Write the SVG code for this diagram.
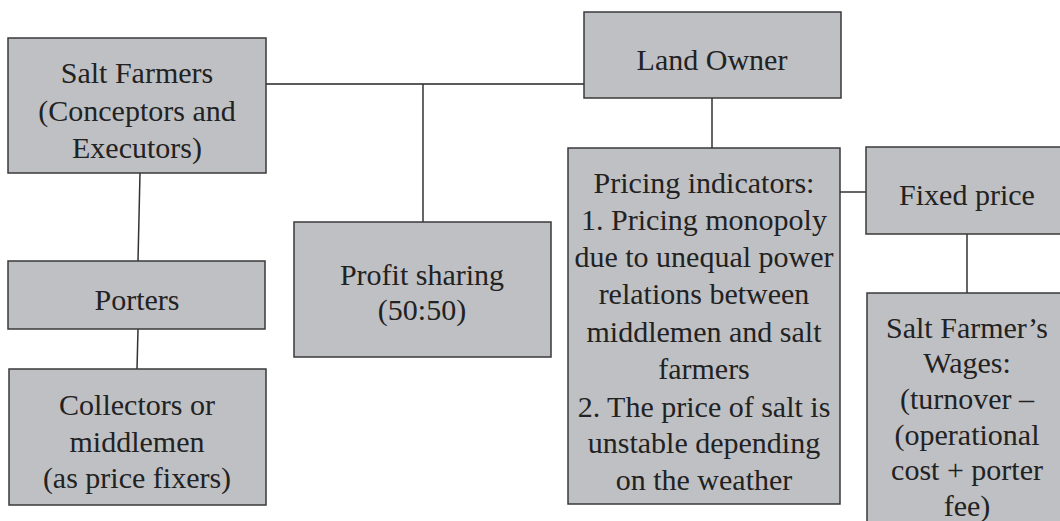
<svg xmlns="http://www.w3.org/2000/svg" width="1060" height="521" viewBox="0 0 1060 521">
<style>
.box{fill:#bfc0c4;stroke:#3a3a3a;stroke-width:1.5}
.t{font-family:"Liberation Serif","DejaVu Serif",serif;font-size:30px;fill:#222;text-anchor:middle}
.c{stroke:#333;stroke-width:1.5;fill:none}
.h{stroke:#5a5a5a;stroke-width:2;fill:none}
</style>
<rect width="1060" height="521" fill="#fff"/>
<g id="connectors">
<line class="h" x1="266" y1="84" x2="584" y2="84"/>
<line class="c" x1="423" y1="84" x2="423" y2="222"/>
<line class="c" x1="140" y1="173" x2="138" y2="261"/>
<line class="c" x1="138" y1="329" x2="137" y2="369"/>
<line class="c" x1="712" y1="98" x2="712" y2="148"/>
<line class="c" x1="840" y1="192" x2="866" y2="192"/>
<line class="c" x1="967" y1="234" x2="967" y2="293"/>
</g>
<g id="salt-farmers">
<rect class="box" x="8" y="38" width="258" height="135"/>
<text class="t" x="137" y="83">Salt Farmers</text>
<text class="t" x="137" y="121">(Conceptors and</text>
<text class="t" x="137" y="158">Executors)</text>
</g>
<g id="land-owner">
<rect class="box" x="584" y="12" width="257" height="86"/>
<text class="t" x="712" y="70">Land Owner</text>
</g>
<g id="porters">
<rect class="box" x="8" y="261" width="257" height="68"/>
<text class="t" x="137" y="310">Porters</text>
</g>
<g id="collectors">
<rect class="box" x="9" y="369" width="257" height="136"/>
<text class="t" x="137" y="415">Collectors or</text>
<text class="t" x="137" y="452">middlemen</text>
<text class="t" x="137" y="488">(as price fixers)</text>
</g>
<g id="profit-sharing">
<rect class="box" x="294" y="222" width="257" height="135"/>
<text class="t" x="422" y="285">Profit sharing</text>
<text class="t" x="422" y="320">(50:50)</text>
</g>
<g id="pricing-indicators">
<rect class="box" x="568" y="148" width="272" height="356"/>
<text class="t" x="704" y="193">Pricing indicators:</text>
<text class="t" x="704" y="230">1. Pricing monopoly</text>
<text class="t" x="704" y="267">due to unequal power</text>
<text class="t" x="704" y="304">relations between</text>
<text class="t" x="704" y="342">middlemen and salt</text>
<text class="t" x="704" y="379">farmers</text>
<text class="t" x="704" y="417">2. The price of salt is</text>
<text class="t" x="704" y="453">unstable depending</text>
<text class="t" x="704" y="490">on the weather</text>
</g>
<g id="fixed-price">
<rect class="box" x="866" y="147" width="202" height="87"/>
<text class="t" x="967" y="205">Fixed price</text>
</g>
<g id="wages">
<rect class="box" x="867" y="293" width="201" height="240"/>
<text class="t" x="967" y="338">Salt Farmer’s</text>
<text class="t" x="967" y="373">Wages:</text>
<text class="t" x="967" y="409">(turnover –</text>
<text class="t" x="967" y="445">(operational</text>
<text class="t" x="967" y="480">cost + porter</text>
<text class="t" x="967" y="516">fee)</text>
</g>
</svg>
